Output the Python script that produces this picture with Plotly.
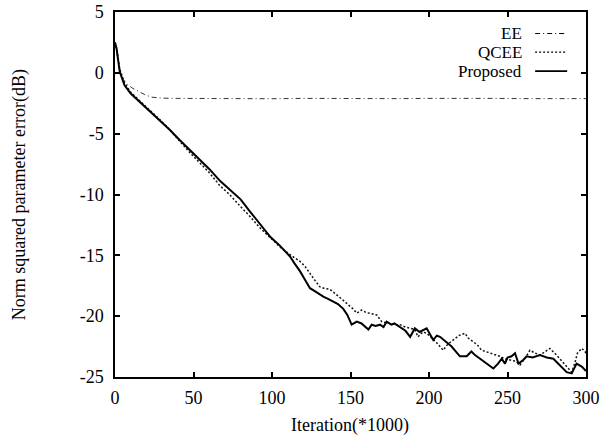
import plotly.graph_objects as go

# ---- data (Iteration in thousands, error in dB) ----
prop_x = [0, 1, 3, 6, 10, 15, 20, 29, 35, 41, 48, 54, 60, 67, 73, 80, 86, 92, 99, 105,
          108, 111.5, 114, 117.8, 121, 124.2, 128, 132.7, 136, 139, 142, 145.4, 148, 150.7,
          154, 157, 161.4, 163.5, 166, 168.8, 171, 173, 176, 178, 181.5, 185, 188, 191, 194,
          198.5, 202.7, 205, 207, 211, 214.4, 217, 219.7, 224, 227, 229.3, 233.5, 237, 241,
          244, 246.3, 248.4, 250, 252.6, 254.8, 257, 260, 262.2, 266, 270.7, 275, 279.2,
          283, 287.7, 290.9, 294, 297.3, 299.4, 300]
prop_y = [2.5, 2.0, 0.1, -1.0, -1.7, -2.3, -2.9, -3.9, -4.7, -5.5, -6.4, -7.1, -7.9, -8.9,
          -9.6, -10.4, -11.4, -12.4, -13.5, -14.2, -14.6, -15.1, -15.6, -16.3, -17.0, -17.7,
          -18.0, -18.4, -18.6, -18.8, -19.0, -19.4, -19.9, -20.7, -20.45, -20.6, -21.1,
          -20.7, -20.8, -20.7, -20.9, -20.45, -20.7, -20.6, -20.9, -21.2, -21.7, -21.0,
          -21.3, -21.0, -21.95, -21.6, -21.7, -22.1, -22.5, -22.9, -23.3, -23.3, -22.9,
          -23.2, -23.6, -23.9, -24.3, -23.9, -23.5, -23.9, -23.4, -23.3, -23.05, -23.9,
          -23.6, -23.3, -23.4, -23.2, -23.4, -23.5, -24.0, -24.6, -24.7, -23.9, -24.15,
          -24.4, -24.5]

qcee_x = [0, 1, 3, 6, 10, 15, 20, 29, 35, 41, 48, 54, 60, 67, 73, 80, 86, 92, 99, 105,
          111.5, 114.5, 117.8, 121, 124, 127, 130.6, 133, 137, 141, 145.4, 148, 151.6, 154,
          157, 160, 163, 166.7, 169.9, 174, 178, 181.5, 185, 188, 191, 193, 196, 198.5, 202,
          205, 209, 212, 215.5, 219, 222.9, 225, 228.2, 231, 233.5, 238, 241, 245.2, 248,
          251.6, 255, 258, 261, 264.3, 267, 270.7, 274, 277, 281.3, 284, 287.7, 290.9, 293,
          294.5, 297.3, 299.4, 300]
qcee_y = [2.5, 2.0, 0.3, -0.8, -1.6, -2.2, -2.8, -3.9, -4.7, -5.6, -6.6, -7.4, -8.2, -9.3,
          -10.0, -11.0, -11.8, -12.7, -13.6, -14.3, -14.95, -15.2, -15.5, -15.9, -16.5,
          -17.0, -17.6, -17.7, -17.8, -18.2, -18.7, -19.0, -19.4, -19.75, -19.5, -19.7,
          -19.8, -19.9, -20.45, -20.6, -20.7, -20.7, -20.9, -21.0, -21.1, -21.7, -21.3,
          -21.4, -21.8, -22.2, -22.8, -22.3, -21.95, -21.6, -21.4, -21.8, -22.1, -22.4,
          -22.8, -23.0, -23.1, -23.3, -23.5, -23.6, -23.7, -24.0, -23.5, -22.8, -23.0,
          -23.2, -22.9, -22.65, -23.2, -23.6, -24.15, -24.6, -23.8, -23.05, -22.65, -22.9,
          -23.1]

ee_x = [0, 1, 3, 5.3, 8, 11, 14.8, 19, 23.4, 30, 40, 60, 80, 100, 120, 140, 160, 180,
        200, 220, 240, 260, 280, 300]
ee_y = [2.5, 1.8, 0.3, -0.55, -0.95, -1.25, -1.5, -1.8, -2.0, -2.08, -2.1, -2.12, -2.1,
        -2.13, -2.1, -2.12, -2.1, -2.12, -2.1, -2.13, -2.1, -2.12, -2.1, -2.12]

x_ticks = [0, 50, 100, 150, 200, 250, 300]
y_ticks = [5, 0, -5, -10, -15, -20, -25]
series_names = ["EE", "QCEE", "Proposed"]

FONT = "Liberation Serif, Times New Roman, serif"

fig = go.Figure()
fig.add_trace(go.Scatter(x=ee_x, y=ee_y, mode="lines", name=series_names[0],
                         line=dict(color="#333333", width=1, dash="5px,3px,1px,3px")))
fig.add_trace(go.Scatter(x=qcee_x, y=qcee_y, mode="lines", name=series_names[1],
                         line=dict(color="#111111", width=1.5, dash="2px,2px")))
fig.add_trace(go.Scatter(x=prop_x, y=prop_y, mode="lines", name=series_names[2],
                         line=dict(color="black", width=2)))

# custom gnuplot-style legend (text right-aligned, sample on the right)
leg_y = [0.941, 0.890, 0.838]
leg_dash = ["5px,3px,1px,3px", "2px,2px", "solid"]
leg_w = [1, 1.2, 1.8]
for name, yy, dsh, w in zip(series_names, leg_y, leg_dash, leg_w):
    fig.add_annotation(x=0.867, y=yy, xref="paper", yref="paper", text=name,
                       showarrow=False, xanchor="right", yanchor="middle", borderpad=0,
                       font=dict(family=FONT, size=17, color="black"))
    fig.add_shape(type="line", xref="paper", yref="paper", x0=0.892, x1=0.960,
                  y0=yy, y1=yy, line=dict(color="black", width=w, dash=dsh))

fig.add_annotation(x=0.499, y=-0.132, xref="paper", yref="paper", text="Iteration(*1000)",
                   showarrow=False, xanchor="center", yanchor="middle",
                   font=dict(family=FONT, size=18, color="black"))
fig.add_annotation(x=-0.202, y=0.5, xref="paper", yref="paper",
                   text="Norm squared parameter error(dB)", textangle=-90,
                   showarrow=False, xanchor="center", yanchor="middle",
                   font=dict(family=FONT, size=18, color="black"))

axis_common = dict(showgrid=False, zeroline=False, showline=True, linecolor="black",
                   linewidth=1.5, mirror="ticks", ticks="inside", ticklen=5,
                   tickwidth=1.5, tickcolor="black", ticklabeloverflow="allow",
                   tickfont=dict(family=FONT, size=18, color="black"))
fig.update_xaxes(range=[0, 300], tickmode="array", tickvals=x_ticks,
                 ticktext=[str(v) for v in x_ticks], ticklabelstandoff=4, **axis_common)
fig.update_yaxes(range=[-25, 5], tickmode="array", tickvals=y_ticks,
                 ticktext=[str(v) for v in y_ticks], ticklabelstandoff=6, **axis_common)

fig.update_layout(width=606, height=443, showlegend=False, hovermode=False,
                  margin=dict(l=115, r=20, t=12, b=66, autoexpand=False),
                  paper_bgcolor="white", plot_bgcolor="white",
                  font=dict(family=FONT, size=18, color="black"))

# remove the default 8px page margin so the figure fills the window exactly
fig.write_html("out.html", config={"displayModeBar": False},
               post_script="document.body.style.margin='0px';")
